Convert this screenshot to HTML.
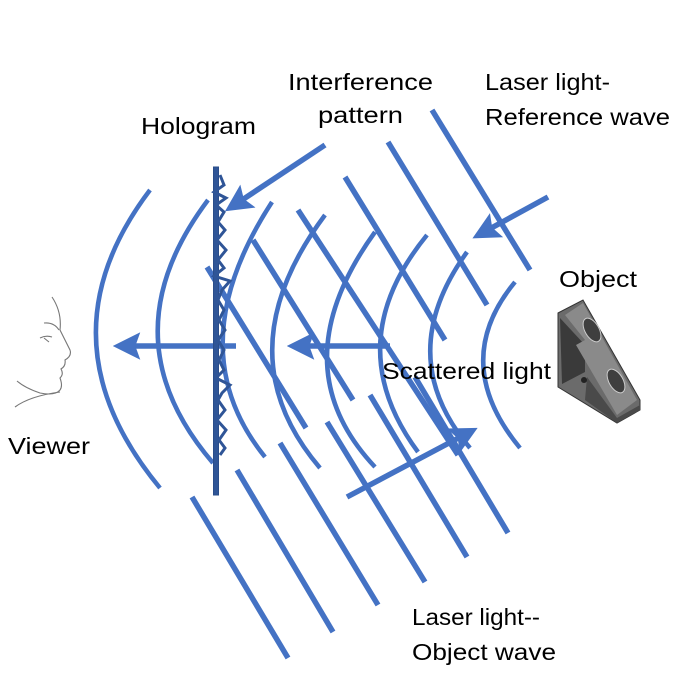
<!DOCTYPE html>
<html><head><meta charset="utf-8"><style>
html,body{margin:0;padding:0;background:#fff;}
svg{display:block;}
text{font-family:"Liberation Sans",sans-serif;font-size:23px;fill:#000;}
</style></head><body>
<svg width="700" height="700" viewBox="0 0 700 700" xmlns="http://www.w3.org/2000/svg">
<defs>
<marker id="ah" markerWidth="5" markerHeight="5" refX="2.6" refY="2.5" orient="auto" markerUnits="strokeWidth">
<path d="M0,0 L5,2.5 L0,5 L0.9,2.5 Z" fill="#4472C4"/>
</marker>
</defs>
<g fill="none" stroke="#4472C4" stroke-width="4.5" stroke-linecap="butt">
<path d="M150,190 Q37,339 160,488"/>
<path d="M208,200 Q105,337 213,463"/>
<path d="M272,202 Q177,348 265,457"/>
<path d="M325,215 Q222,353 320,468"/>
<path d="M375,232 Q279,365 375,467"/>
<path d="M427,235 Q338,344 418,452"/>
<path d="M467,252 Q392,356 470,448"/>
<path d="M515,282 Q449,362 520,448"/>
</g>
<g stroke="#4472C4" stroke-width="5.5" fill="none">
<line x1="432" y1="110" x2="530" y2="270"/>
<line x1="388" y1="142" x2="487" y2="305"/>
<line x1="345" y1="177" x2="445" y2="340"/>
<line x1="298" y1="210" x2="458" y2="455"/>
<line x1="253" y1="240" x2="353" y2="400"/>
<line x1="207" y1="267" x2="306" y2="428"/>
<line x1="192" y1="497" x2="288" y2="658"/>
<line x1="237" y1="470" x2="333" y2="632"/>
<line x1="280" y1="443" x2="378" y2="605"/>
<line x1="327" y1="422" x2="425" y2="582"/>
<line x1="370" y1="395" x2="467" y2="557"/>
<line x1="415" y1="377" x2="508" y2="533"/>
<line x1="325" y1="145" x2="236" y2="204" marker-end="url(#ah)"/>
<line x1="548" y1="197" x2="484" y2="232" marker-end="url(#ah)"/>
<line x1="236" y1="346" x2="126" y2="346" marker-end="url(#ah)"/>
<line x1="390" y1="346" x2="300" y2="346" marker-end="url(#ah)"/>
<line x1="347" y1="497" x2="466" y2="434" marker-end="url(#ah)"/>
</g>
<rect x="213.5" y="167" width="5" height="328" fill="#2F5597" stroke="#2a4d8a" stroke-width="1"/>
<polyline fill="none" stroke="#2F5597" stroke-width="3" points="220,175 224,185 214,192 226,198 216,205 224,212 218,222 225,230 217,240 226,250 218,260 224,268 214,276 230,281 222,290 218,300 224,310 219,320 225,330 218,340 224,350 219,360 224,370 216,378 230,385 222,393 218,400 225,410 217,420 226,430 219,440 225,448 220,455"/>
<g fill="none" stroke="#777" stroke-width="1.1">
<path d="M52,297 Q62,312 60,330 Q66,342 70,350 Q72,356 65,360 Q66,366 61,369 Q64,374 60,378 Q63,386 60,390 Q55,396 40,393 Q25,388 17,381"/>
<path d="M60,392 Q30,396 15,407"/>
<path d="M44,323 Q54,322 59,330"/>
<path d="M40,338 Q46,335 52,337 M44,338 L49,342"/>
</g>
<g>
<polygon points="558,313 583,300 640,400 640,410 617,423 558,387" fill="#6b6b6b" stroke="#333" stroke-width="1"/>
<polygon points="560,318 585,345 585,372 562,384" fill="#3a3a3a"/>
<polygon points="583,303 637,400 617,415 576,345 585,340 565,315" fill="#8a8a8a"/>
<ellipse cx="592" cy="330" rx="7" ry="13" transform="rotate(-30 592 330)" fill="#3f3f3f" stroke="#ccc" stroke-width="1"/>
<ellipse cx="616" cy="381" rx="7" ry="13" transform="rotate(-30 616 381)" fill="#3f3f3f" stroke="#ccc" stroke-width="1"/>
<polygon points="587,377 617,418 640,405 640,410 617,423 585,400" fill="#4a4a4a"/>
<circle cx="584" cy="380" r="3" fill="#222"/>
</g>
<text x="141" y="134" textLength="115" lengthAdjust="spacingAndGlyphs">Hologram</text>
<text x="288" y="90" textLength="145" lengthAdjust="spacingAndGlyphs">Interference</text>
<text x="318" y="123" textLength="85" lengthAdjust="spacingAndGlyphs">pattern</text>
<text x="485" y="90" textLength="125" lengthAdjust="spacingAndGlyphs">Laser light-</text>
<text x="485" y="125" textLength="185" lengthAdjust="spacingAndGlyphs">Reference wave</text>
<text x="559" y="287" textLength="78" lengthAdjust="spacingAndGlyphs">Object</text>
<text x="382" y="379" textLength="169" lengthAdjust="spacingAndGlyphs">Scattered light</text>
<text x="8" y="454" textLength="82" lengthAdjust="spacingAndGlyphs">Viewer</text>
<text x="412" y="625" textLength="128" lengthAdjust="spacingAndGlyphs">Laser light--</text>
<text x="412" y="660" textLength="144" lengthAdjust="spacingAndGlyphs">Object wave</text>
</svg>
</body></html>
